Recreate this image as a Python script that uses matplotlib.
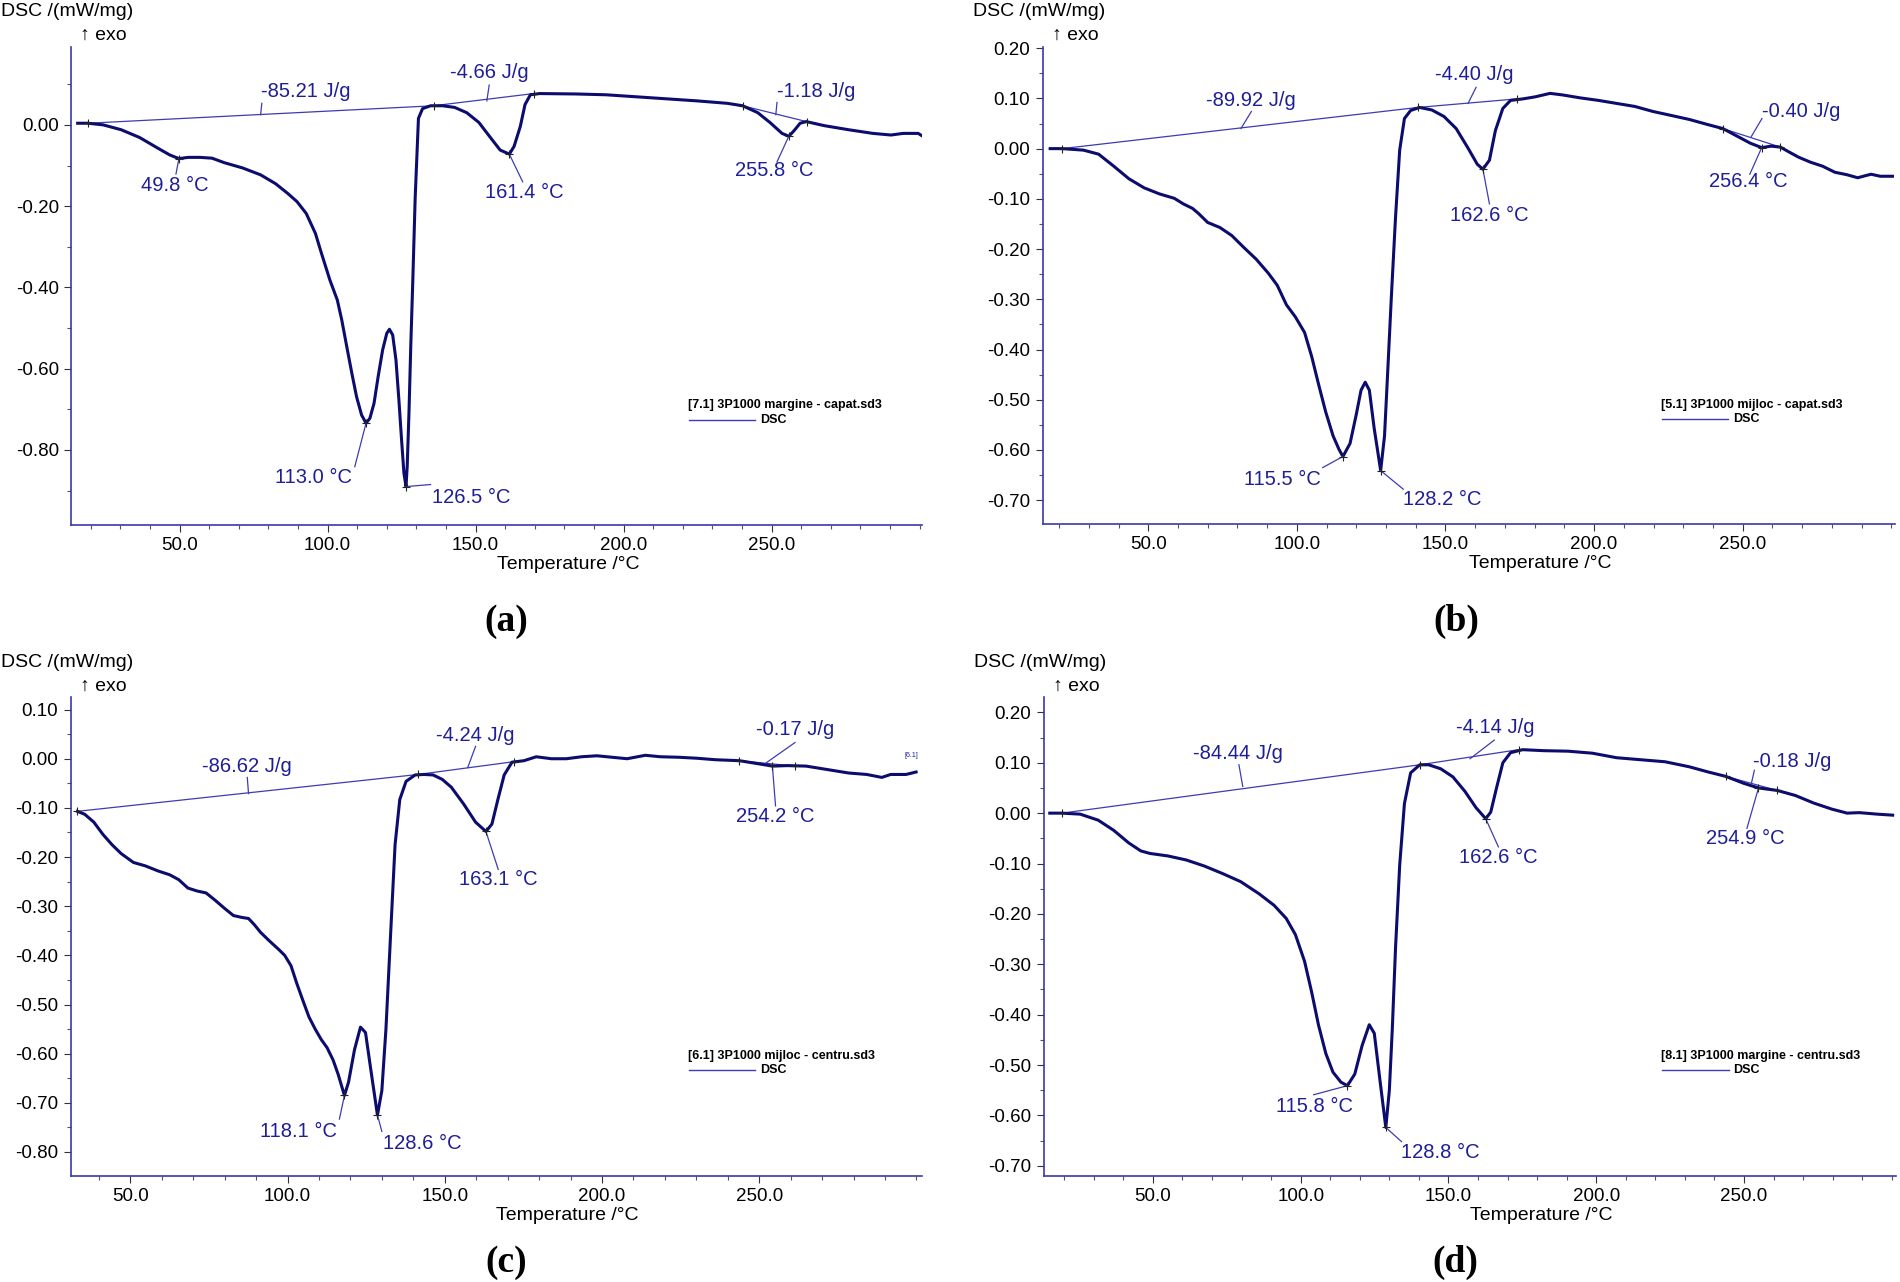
import matplotlib
matplotlib.use("Agg")
import matplotlib.pyplot as plt
from matplotlib.ticker import MultipleLocator, FixedLocator, FormatStrFormatter

plt.rcParams['font.family'] = ['Liberation Sans', 'DejaVu Sans']
plt.rcParams['axes.unicode_minus'] = False

# ---- (a) 3P1000 margine - capat ----
a_temp = [15.6, 19.1, 24.2, 30.3, 36.5, 42.6, 46.7, 49.8, 52.9, 57.0, 61.0, 65.1, 71.3, 77.4, 82.5,
          86.6, 89.7, 92.8, 95.9, 97.9, 100.8, 103.3, 104.8, 106.5, 108.2, 109.8, 111.5, 113.0, 114.3,
          115.7, 117.1, 118.6, 120.0, 120.9, 122.0, 123.1, 124.1, 125.0, 125.8, 126.5, 126.9, 127.5,
          128.1, 128.8, 129.6, 130.7, 132.1, 134.8, 138.8, 142.9, 147.0, 151.1, 155.2, 158.3, 161.4,
          163.0, 165.1, 166.7, 168.5, 171.6, 183.9, 194.1, 204.4, 214.6, 224.8, 235.0, 240.2, 245.3,
          249.4, 253.5, 255.8, 257.6, 259.6, 261.7, 267.8, 276.0, 284.2, 290.3, 294.4, 299.5, 301.0]
a_dsc = [0.004, 0.004, 0.0, -0.012, -0.031, -0.057, -0.074, -0.083, -0.080, -0.080, -0.082, -0.093,
         -0.106, -0.123, -0.145, -0.169, -0.189, -0.218, -0.267, -0.315, -0.382, -0.431, -0.480, -0.546,
         -0.611, -0.669, -0.714, -0.734, -0.722, -0.685, -0.619, -0.554, -0.513, -0.503, -0.517, -0.578,
         -0.677, -0.775, -0.857, -0.890, -0.841, -0.709, -0.546, -0.382, -0.179, 0.016, 0.040, 0.047,
         0.047, 0.043, 0.030, 0.006, -0.033, -0.062, -0.072, -0.053, -0.004, 0.050, 0.074, 0.077, 0.076,
         0.074, 0.069, 0.064, 0.059, 0.053, 0.047, 0.030, 0.006, -0.021, -0.028, -0.014, 0.004, 0.008,
         -0.002, -0.012, -0.021, -0.025, -0.021, -0.021, -0.028]
a_base_T = [19.1, 135.8, 169.6]
a_base_y = [0.004, 0.047, 0.077]
a_base3_T = [240.2, 261.8]
a_base3_y = [0.047, 0.008]
a_labels = ['-85.21 J/g', '-4.66 J/g', '-1.18 J/g', '49.8 °C', '113.0 °C', '126.5 °C', '161.4 °C', '255.8 °C']
a_tip_x = [77.4, 153.8, 251.4, 49.8, 113.0, 126.5, 161.4, 255.8]
a_tip_y = [0.025, 0.059, 0.025, -0.083, -0.734, -0.890, -0.072, -0.028]
a_lead_x = [77.8, 154.6, 251.8, 48.8, 109.2, 134.8, 165.9, 251.8]
a_lead_y = [0.053, 0.098, 0.055, -0.121, -0.841, -0.885, -0.140, -0.091]
a_text_x = [77.4, 141.3, 251.8, 36.9, 82.1, 135.4, 153.2, 237.7]
a_text_y = [0.082, 0.130, 0.081, -0.148, -0.867, -0.916, -0.166, -0.113]

# ---- (b) 3P1000 mijloc - capat ----
b_temp = [17.0, 21.0, 28.2, 33.3, 38.4, 43.5, 48.6, 53.7, 58.8, 61.8, 64.9, 66.9, 70.0, 74.1, 78.1,
          82.2, 86.3, 90.4, 93.4, 96.5, 99.5, 102.6, 105.0, 107.3, 109.7, 112.2, 114.2, 115.5, 117.9,
          119.9, 121.6, 123.0, 124.4, 126.0, 128.2, 129.5, 130.5, 131.8, 133.2, 134.6, 136.2, 138.3,
          141.3, 145.4, 149.5, 153.6, 157.6, 160.7, 162.6, 164.8, 166.8, 169.3, 171.9, 176.0, 180.1,
          185.2, 189.3, 195.4, 201.5, 207.6, 213.7, 219.8, 226.0, 232.1, 238.2, 243.3, 248.4, 252.5,
          256.4, 259.6, 262.7, 265.7, 268.8, 272.8, 276.9, 281.0, 285.1, 288.7, 291.2, 293.2, 296.3, 300.4]
b_dsc = [0.0, 0.0, -0.003, -0.011, -0.035, -0.060, -0.078, -0.090, -0.099, -0.110, -0.119, -0.129,
         -0.147, -0.157, -0.173, -0.197, -0.220, -0.248, -0.272, -0.311, -0.335, -0.366, -0.414, -0.469,
         -0.524, -0.572, -0.599, -0.613, -0.587, -0.532, -0.481, -0.465, -0.481, -0.556, -0.641, -0.572,
         -0.453, -0.295, -0.137, -0.003, 0.060, 0.076, 0.082, 0.077, 0.064, 0.040, 0.001, -0.031, -0.041,
         -0.023, 0.036, 0.080, 0.096, 0.099, 0.103, 0.110, 0.107, 0.101, 0.096, 0.090, 0.084, 0.074,
         0.066, 0.058, 0.048, 0.040, 0.024, 0.011, 0.002, 0.005, 0.003, -0.007, -0.017, -0.027, -0.035,
         -0.047, -0.052, -0.058, -0.054, -0.051, -0.055, -0.055]
b_base_T = [21.0, 140.7, 174.0]
b_base_y = [0.0, 0.082, 0.099]
b_base3_T = [243.3, 262.7]
b_base3_y = [0.040, 0.003]
b_labels = ['-89.92 J/g', '-4.40 J/g', '-0.40 J/g', '115.5 °C', '128.2 °C', '162.6 °C', '256.4 °C']
b_tip_x = [81.2, 157.6, 252.9, 115.5, 128.2, 162.6, 256.4]
b_tip_y = [0.040, 0.090, 0.024, -0.613, -0.641, -0.041, 0.002]
b_lead_x = [84.7, 160.3, 256.5, 108.7, 135.8, 164.8, 252.4]
b_lead_y = [0.074, 0.122, 0.060, -0.635, -0.678, -0.110, -0.051]
b_text_x = [69.6, 146.4, 256.5, 82.2, 135.8, 151.5, 238.7]
b_text_y = [0.096, 0.147, 0.073, -0.658, -0.698, -0.133, -0.066]

# ---- (c) 3P1000 mijloc - centru ----
c_temp = [33.2, 35.5, 38.4, 41.3, 44.2, 47.1, 51.0, 54.8, 58.7, 62.5, 65.4, 68.3, 71.2, 74.1, 77.0,
          79.9, 82.8, 85.6, 87.6, 89.5, 91.4, 94.3, 97.2, 99.1, 101.1, 103.0, 104.9, 106.8, 108.8, 110.7,
          112.6, 114.5, 116.1, 118.1, 119.4, 121.3, 123.2, 124.8, 126.5, 128.6, 130.0, 131.3, 132.9,
          134.2, 135.7, 137.7, 140.6, 143.4, 146.3, 149.2, 152.1, 156.0, 159.8, 163.1, 165.0, 166.9,
          168.9, 171.4, 175.2, 179.1, 183.9, 188.7, 193.5, 198.4, 203.2, 208.0, 213.8, 218.6, 224.4,
          230.2, 236.0, 243.7, 249.5, 254.2, 259.1, 264.9, 270.7, 278.4, 284.2, 289.0, 291.8, 296.7, 299.9]
c_dsc = [-0.107, -0.113, -0.129, -0.154, -0.175, -0.193, -0.211, -0.218, -0.228, -0.236, -0.246,
         -0.263, -0.269, -0.273, -0.288, -0.304, -0.319, -0.323, -0.325, -0.338, -0.353, -0.371, -0.388,
         -0.400, -0.421, -0.458, -0.492, -0.525, -0.550, -0.571, -0.588, -0.613, -0.642, -0.685, -0.658,
         -0.592, -0.546, -0.557, -0.633, -0.725, -0.675, -0.550, -0.342, -0.175, -0.083, -0.046, -0.033,
         -0.032, -0.033, -0.042, -0.058, -0.092, -0.129, -0.148, -0.133, -0.083, -0.033, -0.007, -0.004,
         0.004, 0.0, 0.0, 0.004, 0.006, 0.003, 0.0, 0.007, 0.004, 0.003, 0.001, -0.002, -0.004, -0.010,
         -0.015, -0.014, -0.015, -0.021, -0.029, -0.032, -0.038, -0.032, -0.032, -0.027]
c_base_T = [33.2, 141.5, 172.0]
c_base_y = [-0.107, -0.032, -0.006]
c_base3_T = [243.7, 261.3]
c_base3_y = [-0.004, -0.015]
c_labels = ['-86.62 J/g', '-4.24 J/g', '-0.17 J/g', '118.1 °C', '128.6 °C', '163.1 °C', '254.2 °C']
c_tip_x = [87.6, 157.3, 252.3, 118.1, 128.6, 163.1, 254.2]
c_tip_y = [-0.071, -0.018, -0.008, -0.685, -0.725, -0.148, -0.015]
c_lead_x = [87.2, 159.8, 261.4, 116.5, 130.0, 167.0, 255.2]
c_lead_y = [-0.038, 0.025, 0.033, -0.733, -0.758, -0.225, -0.096]
c_text_x = [72.7, 147.3, 249.0, 91.4, 130.3, 154.6, 242.7]
c_text_y = [-0.015, 0.048, 0.060, -0.758, -0.782, -0.246, -0.117]

# ---- (d) 3P1000 margine - centru ----
d_temp = [15.1, 19.2, 25.4, 31.5, 36.7, 41.8, 45.9, 49.0, 55.1, 61.3, 67.4, 73.6, 79.7, 85.9, 91.0,
          95.1, 98.2, 101.3, 103.7, 106.0, 108.5, 110.9, 113.6, 115.8, 118.3, 120.8, 123.2, 124.9, 126.9,
          128.8, 130.0, 131.0, 132.1, 133.5, 135.1, 137.2, 140.3, 143.3, 147.4, 151.5, 155.6, 159.3,
          162.6, 164.3, 166.3, 168.4, 171.0, 175.1, 182.3, 190.5, 198.7, 206.9, 215.1, 223.3, 231.5,
          237.7, 243.8, 250.0, 254.9, 261.3, 267.4, 273.6, 279.7, 284.9, 289.0, 295.1, 300.3]
d_dsc = [0.0, 0.0, -0.002, -0.014, -0.034, -0.059, -0.075, -0.080, -0.085, -0.093, -0.105, -0.120,
         -0.136, -0.160, -0.183, -0.209, -0.241, -0.294, -0.355, -0.420, -0.477, -0.514, -0.534, -0.541,
         -0.518, -0.461, -0.420, -0.437, -0.534, -0.624, -0.550, -0.428, -0.266, -0.103, 0.019, 0.080,
         0.096, 0.096, 0.088, 0.072, 0.043, 0.011, -0.011, 0.002, 0.051, 0.100, 0.120, 0.126, 0.124,
         0.123, 0.119, 0.110, 0.106, 0.102, 0.092, 0.082, 0.073, 0.059, 0.050, 0.045, 0.035, 0.020,
         0.008, 0.0, 0.001, -0.002, -0.004]
d_base_T = [19.2, 140.3, 173.7]
d_base_y = [0.0, 0.096, 0.126]
d_base3_T = [243.8, 261.3]
d_base3_y = [0.073, 0.045]
d_labels = ['-84.44 J/g', '-4.14 J/g', '-0.18 J/g', '115.8 °C', '128.8 °C', '162.6 °C', '254.9 °C']
d_tip_x = [80.4, 157.3, 252.5, 115.8, 128.8, 162.6, 254.9]
d_tip_y = [0.053, 0.108, 0.059, -0.541, -0.624, -0.011, 0.050]
d_lead_x = [79.1, 165.5, 253.5, 104.4, 134.1, 166.9, 251.0]
d_lead_y = [0.096, 0.145, 0.085, -0.559, -0.652, -0.067, -0.030]
d_text_x = [63.7, 152.6, 253.1, 91.6, 134.1, 153.6, 237.1]
d_text_y = [0.118, 0.171, 0.102, -0.583, -0.674, -0.089, -0.050]

files = ['[7.1] 3P1000 margine - capat.sd3', '[5.1] 3P1000 mijloc - capat.sd3',
         '[6.1] 3P1000 mijloc - centru.sd3', '[8.1] 3P1000 margine - centru.sd3']
panel_tags = ['(a)', '(b)', '(c)', '(d)']
x_ticks = [50, 100, 150, 200, 250]

CURVE = '#0c0c6e'
BASE = '#3c3cb4'
TEXT = '#1e1e96'
SPINE = '#3a3aa6'


def draw_panel(ax, temp, dsc, base_T, base_y, base3_T, base3_y,
               labels, tip_x, tip_y, lead_x, lead_y, text_x, text_y,
               xlim, ylim, ymajor, fname):
    ax.plot(base_T, base_y, color=BASE, lw=0.9)
    ax.plot(base3_T, base3_y, color=BASE, lw=0.9)
    ax.plot(temp, dsc, color=CURVE, lw=2.2, solid_joinstyle='round')
    for i in range(len(labels)):
        ax.plot([tip_x[i], lead_x[i]], [tip_y[i], lead_y[i]], color=BASE, lw=0.9)
        ax.text(text_x[i], text_y[i], labels[i], color=TEXT, fontsize=14.5,
                ha='left', va='center')
    # small cross marks at baseline limits and peaks
    ax.plot(base_T + base3_T, base_y + base3_y, ls='none', marker='+', ms=6,
            mew=0.8, color='#222222')
    ax.plot(tip_x[3:], tip_y[3:], ls='none', marker='+', ms=6, mew=0.8, color='#222222')

    ax.set_xlim(*xlim)
    ax.set_ylim(*ylim)
    ax.xaxis.set_major_locator(FixedLocator(x_ticks))
    ax.xaxis.set_minor_locator(MultipleLocator(10))
    ax.xaxis.set_major_formatter(FormatStrFormatter('%.1f'))
    ax.yaxis.set_major_locator(MultipleLocator(ymajor))
    ax.yaxis.set_minor_locator(MultipleLocator(ymajor / 2))
    ax.yaxis.set_major_formatter(FormatStrFormatter('%.2f'))
    ax.tick_params(which='major', length=5, width=0.8, color='#333333',
                   labelsize=13.5, pad=4)
    ax.tick_params(which='minor', length=3, width=0.8, color='#555555')
    for s in ['top', 'right']:
        ax.spines[s].set_visible(False)
    for s in ['left', 'bottom']:
        ax.spines[s].set_color(SPINE)
        ax.spines[s].set_linewidth(1.2)

    ax.annotate('DSC /(mW/mg)', xy=(0, 1), xycoords='axes fraction', xytext=(-70, 35),
                textcoords='offset pixels', ha='left', va='center', fontsize=14)
    ax.annotate('↑ exo', xy=(0, 1), xycoords='axes fraction', xytext=(9, 11),
                textcoords='offset pixels', ha='left', va='center', fontsize=14)
    ax.annotate('Temperature /°C', xy=(0.5, 0), xycoords='axes fraction', xytext=(0, -40),
                textcoords='offset pixels', ha='left', va='center', fontsize=14)

    # legend block
    ax.text(0.725, 0.25, fname, transform=ax.transAxes, fontsize=9,
            fontweight='bold', ha='left', va='center')
    ax.plot([0.726, 0.804], [0.22, 0.22], transform=ax.transAxes, color=BASE, lw=1)
    ax.text(0.8095, 0.22, 'DSC', transform=ax.transAxes, fontsize=9,
            fontweight='bold', ha='left', va='center')


fig = plt.figure(figsize=(19, 12.82), dpi=100)

ax_a = fig.add_axes([0.0376, 0.5905, 0.4477, 0.3731])
draw_panel(ax_a, a_temp, a_dsc, a_base_T, a_base_y, a_base3_T, a_base3_y,
           a_labels, a_tip_x, a_tip_y, a_lead_x, a_lead_y, a_text_x, a_text_y,
           (13.5, 300.8), (-0.9845, 0.1924), 0.2, files[0])

ax_b = fig.add_axes([0.5488, 0.5914, 0.4488, 0.3722])
draw_panel(ax_b, b_temp, b_dsc, b_base_T, b_base_y, b_base3_T, b_base3_y,
           b_labels, b_tip_x, b_tip_y, b_lead_x, b_lead_y, b_text_x, b_text_y,
           (14.5, 301.4), (-0.747, 0.203), 0.1, files[1])

ax_c = fig.add_axes([0.0373, 0.0830, 0.4480, 0.3731])
draw_panel(ax_c, c_temp, c_dsc, c_base_T, c_base_y, c_base3_T, c_base3_y,
           c_labels, c_tip_x, c_tip_y, c_lead_x, c_lead_y, c_text_x, c_text_y,
           (31.1, 301.8), (-0.848, 0.125), 0.1, files[2])
ax_c.text(296.2, 0.0, '[6.1]', color=TEXT, fontsize=5, ha='left', va='bottom')

ax_d = fig.add_axes([0.5494, 0.0830, 0.4483, 0.3731])
draw_panel(ax_d, d_temp, d_dsc, d_base_T, d_base_y, d_base3_T, d_base3_y,
           d_labels, d_tip_x, d_tip_y, d_lead_x, d_lead_y, d_text_x, d_text_y,
           (13.1, 301.3), (-0.7195, 0.230), 0.1, files[3])

tag_pos = [(0.2666, 0.515), (0.7666, 0.515), (0.2662, 0.0156), (0.7662, 0.0156)]
for tag, (tx, ty) in zip(panel_tags, tag_pos):
    fig.text(tx, ty, tag, fontsize=27, fontweight='bold', family='Liberation Serif',
             ha='center', va='center')

fig.savefig('out.png', dpi=100)
